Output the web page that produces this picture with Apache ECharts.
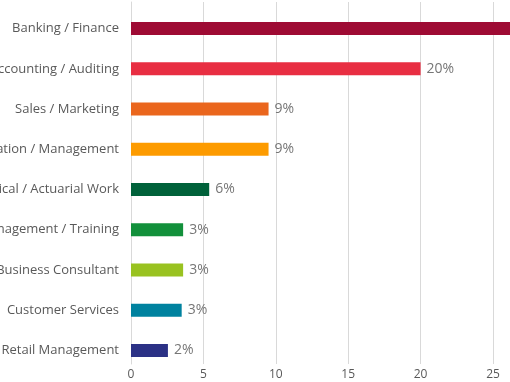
<!DOCTYPE html>
<html>
<head>
<meta charset="utf-8">
<script src="https://cdn.jsdelivr.net/npm/echarts@6/dist/echarts.min.js"></script>
<style>
html,body{margin:0;padding:0;background:#fff;overflow:hidden;}
#chart{width:700px;height:382px;}
</style>
</head>
<body>
<div id="chart"></div>
<script>
const categories = ["Banking / Finance","Accounting / Auditing","Sales / Marketing","Administration / Management","Statistical / Actuarial Work","HR Management / Training","Business Consultant","Customer Services","Retail Management"];
const values = [28, 20.0, 9.5, 9.5, 5.4, 3.6, 3.6, 3.5, 2.55];
const valueLabels = ["28%","20%","9%","9%","6%","3%","3%","3%","2%"];
const barColors = ["#9e0b34","#e82e42","#ea661d","#fd9b00","#00613a","#12903b","#99c220","#00829f","#2b3185"];
const xTicks = [0,5,10,15,20,25,30];

const chart = echarts.init(document.getElementById('chart'));
chart.setOption({
  animation:false,
  grid:{left:131, right:700-131-30*14.48, top:2, bottom:18, outerBoundsMode:'none', containLabel:false},
  xAxis:{type:'value', min:xTicks[0], max:xTicks[xTicks.length-1], interval:5,
    axisLine:{show:false}, axisTick:{show:false},
    splitLine:{lineStyle:{color:'#d9d9d9', width:1}},
    axisLabel:{color:'#595959', fontFamily:'Open Sans', fontSize:12, margin:5}},
  yAxis:{type:'category', data:categories, inverse:true,
    axisLine:{lineStyle:{color:'#d9d9d9'}}, axisTick:{show:false},
    axisLabel:{color:'#595959', fontFamily:'Open Sans', fontSize:13, lineHeight:13, margin:12, verticalAlign:'top'}},
  series:[
    {type:'bar', data:[], barWidth:13, barGap:'0%'},
    {type:'bar', barWidth:13, barGap:'0%',
     data: values.map((v,i)=>({value:v, itemStyle:{color:barColors[i]}})),
     label:{show:true, position:'right', distance:6, color:'#767676', fontFamily:'Open Sans', fontSize:14,
       formatter:(p)=>valueLabels[p.dataIndex]}}
  ]
});
</script>
</body>
</html>
